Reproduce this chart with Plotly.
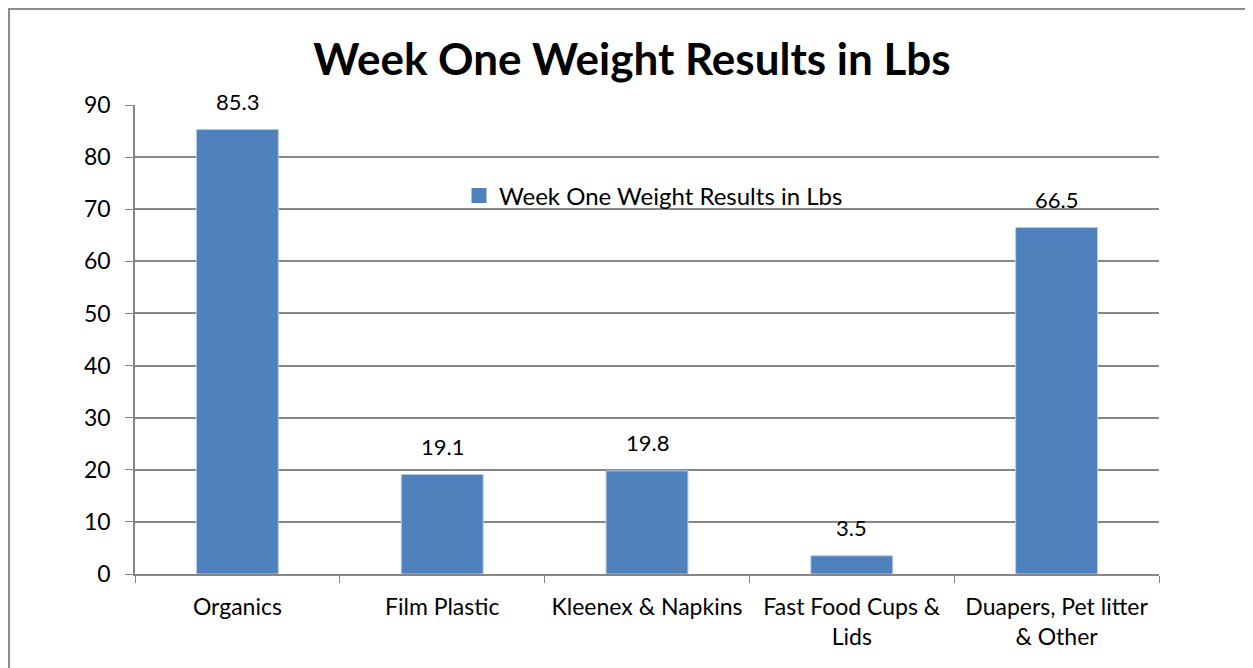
import plotly.graph_objects as go

categories = ["Organics", "Film Plastic", "Kleenex & Napkins",
              "Fast Food Cups &<br>Lids", "Duapers, Pet litter<br>& Other"]
values = [85.3, 19.1, 19.8, 3.5, 66.5]
series_name = "Week One Weight Results in Lbs"
title_text = "Week One Weight Results in Lbs"

FONT = "Lato, 'Open Sans', sans-serif"
BAR = "#4F81BD"
GRID = "#868686"

W, H = 1245, 660          # page has an 8px body margin
L, T, R, B = 127, 97, 94, 94
PW = W - L - R            # plot width in px
PH = H - T - B            # plot height in px
OFF = 8

def fx(x):  # figure px -> paper x
    return (x - L) / PW

def fy(y):  # figure px -> paper y
    return 1 - (y - T) / PH

fig = go.Figure()
fig.add_trace(go.Bar(
    x=categories, y=values, name=series_name,
    marker=dict(color=BAR, line=dict(color="#B9CDE5", width=1)),
    width=0.4, showlegend=False,
))
# legend proxy with a larger square symbol
fig.add_trace(go.Scatter(
    x=[None], y=[None], mode="markers", name=series_name,
    marker=dict(symbol="square", size=15, color=BAR), showlegend=True,
))

for c, v in zip(categories, values):
    fig.add_annotation(x=c, y=v, text=f"{v}", showarrow=False,
                       yshift=28, font=dict(family=FONT, size=22, color="#000"))

fig.update_layout(
    width=W, height=H,
    margin=dict(l=L, r=R, t=T, b=B),
    paper_bgcolor="white", plot_bgcolor="white",
    font=dict(family=FONT, size=22, color="#000"),
    title=dict(text=f"<b>{title_text}</b>", x=(632 - OFF) / W, xref="container",
               y=1 - (60 - OFF) / H, yref="container", xanchor="center", yanchor="middle",
               font=dict(family=FONT, size=44, color="#000")),
    legend=dict(x=fx(459 - OFF), y=fy(196 - OFF), xanchor="left", yanchor="middle",
                bgcolor="rgba(0,0,0,0)", font=dict(family=FONT, size=24),
                itemwidth=30),
    bargap=0.6,
)
fig.update_xaxes(type="category", tickson="boundaries", ticks="outside", ticklen=7,
                 tickcolor=GRID, showline=True, linecolor=GRID, linewidth=1.5,
                 showgrid=False, tickfont=dict(family=FONT, size=23), ticklabelstandoff=12)
fig.update_yaxes(range=[0, 90], dtick=10, ticks="outside", ticklen=8, tickcolor=GRID,
                 showline=True, linecolor=GRID, linewidth=1.5, gridcolor=GRID, gridwidth=1.5,
                 zeroline=False, tickfont=dict(family=FONT, size=23), ticklabelstandoff=10)

# chart border (left and top), just inside the figure's top-left corner
fig.add_shape(type="line", xref="paper", yref="paper",
              x0=fx(1), x1=fx(1), y0=fy(0), y1=fy(H + 10),
              line=dict(color="#8C8C8C", width=2))
fig.add_shape(type="line", xref="paper", yref="paper",
              x0=fx(0), x1=fx(W + 10), y0=fy(1), y1=fy(1),
              line=dict(color="#8C8C8C", width=2))

fig.write_html("out.html")
